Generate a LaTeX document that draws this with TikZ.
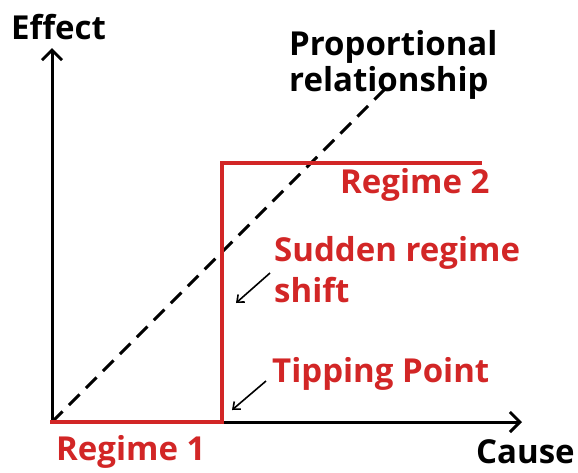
\documentclass[tikz,border=0pt]{standalone}
\usepackage{fontspec}
\setmainfont{Open Sans}
\usetikzlibrary{arrows.meta}
\definecolor{regred}{RGB}{210,38,38}
\begin{document}
\begin{tikzpicture}[x=1pt,y=-1pt,
  lbl/.style={anchor=west,inner sep=0pt,font=\fontsize{33}{38}\selectfont\bfseries},
  redlbl/.style={lbl,text=regred},
  axis/.style={line width=3pt,-{Straight Barb[length=10pt,width=20pt,line width=3pt]}},
  redline/.style={line width=3.2pt,regred},
  pointer/.style={line width=1.6pt,-{Straight Barb[length=6pt,width=10pt,line width=1.6pt]}}]
\useasboundingbox (0,0) rectangle (578,472);
\coordinate (O) at (52,422);
\coordinate (ytip) at (52,48);
\coordinate (xtip) at (522,422);
\coordinate (tp) at (222,422);
\coordinate (top) at (222,163);
\coordinate (r2end) at (480,163);
\coordinate (dend) at (388,86);
\draw[axis] (O) -- (ytip);
\draw[axis] (O) -- (xtip);
\draw[line width=3pt,dash pattern=on 15pt off 9pt] (O) -- (dend);
\draw[redline,line cap=rect] (O) -- (tp) -- (top) -- (r2end);
\node[lbl] (effect) at (11,27) {Effect};
\node[lbl] (prop) at (289,47) {Proportional};
\node[lbl] (rel) at (289,83) {relationship};
\node[redlbl] (r2) at (340,185) {Regime 2};
\node[redlbl] (sud) at (274,253) {Sudden regime};
\node[redlbl] (shift) at (274,290) {shift};
\node[redlbl] (tip) at (272,374) {Tipping Point};
\node[redlbl] (r1) at (56,452) {Regime 1};
\node[lbl] (cause) at (476,452) {Cause};
\coordinate (a1s) at (270,273);
\coordinate (a1e) at (236,303);
\coordinate (a2s) at (266,381);
\coordinate (a2e) at (232,410);
\draw[pointer] (a1s) -- (a1e);
\draw[pointer] (a2s) -- (a2e);
\end{tikzpicture}
\end{document}
